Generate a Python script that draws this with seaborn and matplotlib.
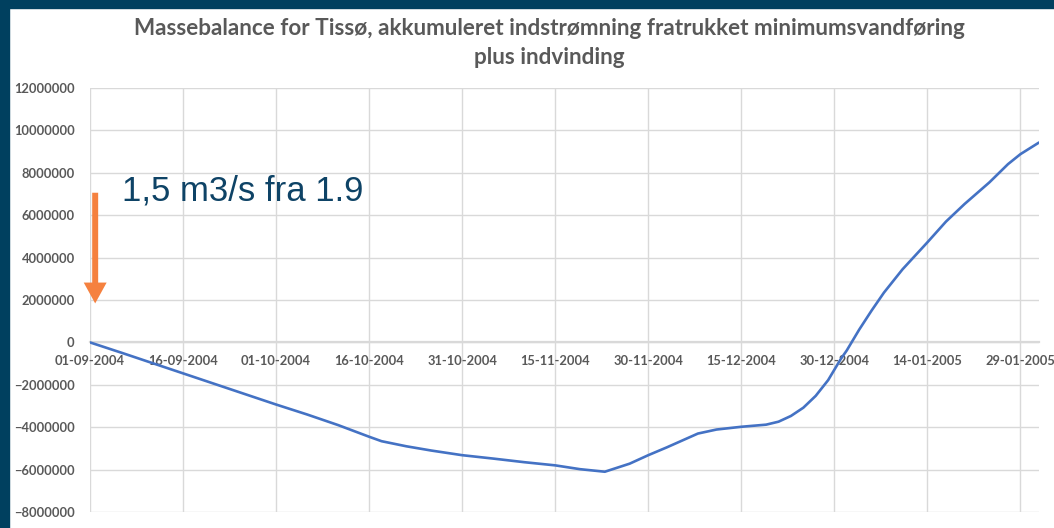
import pandas as pd
import numpy as np
import matplotlib.pyplot as plt
import matplotlib.dates as mdates
from matplotlib.ticker import StrMethodFormatter
from matplotlib.patches import Rectangle
import seaborn as sns

# values (accumulated volume, m3)
dates = ["2004-09-01", "2004-09-06", "2004-09-11", "2004-09-16", "2004-09-21",
         "2004-09-26", "2004-10-01", "2004-10-06", "2004-10-11", "2004-10-16",
         "2004-10-18", "2004-10-22", "2004-10-26", "2004-10-31", "2004-11-05",
         "2004-11-10", "2004-11-15", "2004-11-19", "2004-11-23", "2004-11-27",
         "2004-11-30", "2004-12-03", "2004-12-08", "2004-12-11", "2004-12-15",
         "2004-12-17", "2004-12-19", "2004-12-21", "2004-12-23", "2004-12-25",
         "2004-12-27", "2004-12-29", "2004-12-31", "2005-01-01", "2005-01-03",
         "2005-01-05", "2005-01-07", "2005-01-10", "2005-01-14", "2005-01-17",
         "2005-01-20", "2005-01-24", "2005-01-27", "2005-01-29", "2005-02-01"]
volume = [0, -480000, -970000, -1460000, -1950000,
          -2440000, -2930000, -3400000, -3900000, -4450000,
          -4660000, -4900000, -5100000, -5320000, -5480000,
          -5650000, -5800000, -5980000, -6100000, -5720000,
          -5320000, -4950000, -4300000, -4110000, -3980000,
          -3930000, -3880000, -3740000, -3470000, -3080000,
          -2520000, -1780000, -800000, -380000, 600000,
          1500000, 2350000, 3450000, 4720000, 5700000,
          6530000, 7550000, 8410000, 8880000, 9430000]

tick_dates = pd.date_range("2004-09-01", periods=11, freq="15D")
y_ticks = [-8000000, -6000000, -4000000, -2000000, 0, 2000000, 4000000,
           6000000, 8000000, 10000000, 12000000]

title = "Massebalance for Tissø, akkumuleret indstrømning fratrukket minimumsvandføring\nplus indvinding"
note = "1,5 m3/s fra 1.9"

df = pd.DataFrame({"date": pd.to_datetime(dates), "volume": volume})

sns.set_style("white")
plt.rcParams["font.family"] = ["Lato", "DejaVu Sans"]

fig = plt.figure(figsize=(10.54, 5.28), dpi=100)
ax = fig.add_axes([0.0854, 0.0303, 0.9004, 0.8030])

sns.lineplot(data=df, x="date", y="volume", color="#4472C4", linewidth=1.9, ax=ax, zorder=3)

ax.set_xlim(pd.Timestamp("2004-09-01"), pd.Timestamp("2005-02-01"))
ax.set_ylim(-8000000, 12000000)
ax.set_xticks(tick_dates)
ax.set_yticks(y_ticks)
ax.xaxis.set_major_formatter(mdates.DateFormatter("%d-%m-%Y"))
ax.yaxis.set_major_formatter(StrMethodFormatter("{x:.0f}"))
ax.grid(True, color="#d9d9d9", linewidth=1)
for s in ["top", "right", "left"]:
    ax.spines[s].set_visible(False)
ax.spines["bottom"].set_position(("data", 0))
ax.spines["bottom"].set_color("#d9d9d9")
ax.spines["bottom"].set_linewidth(1.6)
ax.tick_params(axis="both", length=0, labelsize=9.3, labelcolor="#595959")
ax.tick_params(axis="x", pad=9)
ax.tick_params(axis="y", pad=11)
for lab in ax.get_xticklabels() + ax.get_yticklabels():
    lab.set_fontweight("bold")
ax.set_xlabel("")
ax.set_ylabel("")

# orange arrow and note
x0 = pd.Timestamp("2004-09-01") + pd.Timedelta(hours=20)
ax.annotate("", xy=(x0, 1840000), xytext=(x0, 7060000),
            arrowprops=dict(width=4.3, headwidth=16.5, headlength=15, shrink=0,
                            color="#F5813F", linewidth=0))
ax.text(pd.Timestamp("2004-09-06 05:00"), 7150000, note, fontsize=25,
        color="#0E4366", va="center", ha="left", family=["Liberation Sans"])

fig.text(0.521, 0.918, title, ha="center", va="center", fontsize=16.2,
         fontweight="bold", color="#595959", linespacing=1.45)

# dark frame on top and left
fig.patches.append(Rectangle((0, 0), 9 / 1054, 1, transform=fig.transFigure,
                             color="#00405F", zorder=10))
fig.patches.append(Rectangle((0, 1 - 8 / 528), 1, 8 / 528, transform=fig.transFigure,
                             color="#00405F", zorder=10))

fig.savefig("out.png", dpi=100)
